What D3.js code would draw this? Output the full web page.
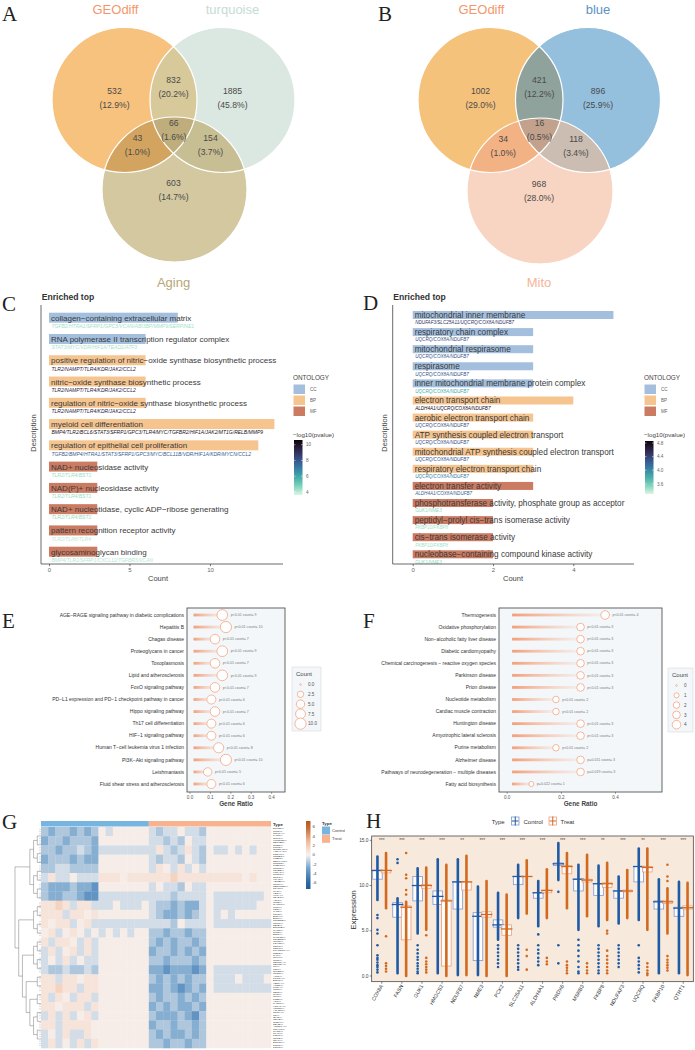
<!DOCTYPE html>
<html>
<head>
<meta charset="utf-8">
<script src="https://cdn.jsdelivr.net/npm/d3@7"></script>
<style>
  body { margin: 0; background: #fff; }
  svg { display: block; }
  text { font-family: "Liberation Sans", Arial, sans-serif; }
  text.letter { font-family: "Liberation Serif", "DejaVu Serif", serif; }
</style>
</head>
<body>
<svg id="fig" width="695" height="1050"></svg>
<script>
// ---------- data ----------
// venn: counts in order [only1, only2, only3, 1&2, 1&3, 2&3, all]
const vennANames = ["GEOdiff", "turquoise", "Aging"];
const vennACounts = [532, 1885, 603, 832, 43, 154, 66];
const vennBNames = ["GEOdiff", "blue", "Mito"];
const vennBCounts = [1002, 896, 968, 421, 34, 118, 16];

const cTerms = ["collagen−containing extracellular matrix", "RNA polymerase II transcription regulator complex",
  "positive regulation of nitric−oxide synthase biosynthetic process", "nitric−oxide synthase biosynthetic process",
  "regulation of nitric−oxide synthase biosynthetic process", "myeloid cell differentiation",
  "regulation of epithelial cell proliferation", "NAD+ nucleosidase activity", "NAD(P)+ nucleosidase activity",
  "NAD+ nucleotidase, cyclic ADP−ribose generating", "pattern recognition receptor activity", "glycosaminoglycan binding"];
const cOnto = ["CC", "CC", "BP", "BP", "BP", "BP", "BP", "MF", "MF", "MF", "MF", "MF"];
const cCounts = [8, 6, 6, 6, 6, 14, 13, 3, 3, 3, 3, 3];
const cGenes = ["TGFB2/HTRA1/SFRP1/GPC3/VCAN/ABI3BP/MMP9/SERPINE1", "STAT3/MYC/VDR/HIF1A/TEAD1/ATF3",
  "TLR2/NAMPT/TLR4/KDR/JAK2/CCL2", "TLR2/NAMPT/TLR4/KDR/JAK2/CCL2", "TLR2/NAMPT/TLR4/KDR/JAK2/CCL2",
  "BMP4/TLR2/BCL6/STAT3/SFRP1/GPC3/TLR4/MYC/TGFBR2/HIF1A/JAK2/MT1G/RELB/MMP9",
  "TGFB2/BMP4/HTRA1/STAT3/SFRP1/GPC3/MYC/BCL11B/VDR/HIF1A/KDR/MYCN/CCL2",
  "TLR2/TLR4/BST1", "TLR2/TLR4/BST1", "TLR2/TLR4/BST1", "TLR2/TLR8/TLR4", "BMP4/TLR2/SFRP1/CXCL12/TGFBR3/VCAN"];
const cLogP = [4.3, 4.2, 9.6, 9.6, 9.6, 10.2, 7.8, 4.4, 4.4, 4.4, 4.0, 4.1];

const dTerms = ["mitochondrial inner membrane", "respiratory chain complex", "mitochondrial respirasome", "respirasome",
  "inner mitochondrial membrane protein complex", "electron transport chain", "aerobic electron transport chain",
  "ATP synthesis coupled electron transport", "mitochondrial ATP synthesis coupled electron transport",
  "respiratory electron transport chain", "electron transfer activity",
  "phosphotransferase activity, phosphate group as acceptor", "peptidyl−prolyl cis−trans isomerase activity",
  "cis−trans isomerase activity", "nucleobase−containing compound kinase activity"];
const dOnto = ["CC", "CC", "CC", "CC", "CC", "BP", "BP", "BP", "BP", "BP", "MF", "MF", "MF", "MF", "MF"];
const dCounts = [5, 3, 3, 3, 3, 4, 3, 3, 3, 3, 3, 2, 2, 2, 2];
const dGenes = ["NDUFAF3/SLC25A11/UQCRQ/COX8A/NDUFB7", "UQCRQ/COX8A/NDUFB7", "UQCRQ/COX8A/NDUFB7", "UQCRQ/COX8A/NDUFB7",
  "UQCRQ/COX8A/NDUFB7", "ALDH4A1/UQCRQ/COX8A/NDUFB7", "UQCRQ/COX8A/NDUFB7", "UQCRQ/COX8A/NDUFB7",
  "UQCRQ/COX8A/NDUFB7", "UQCRQ/COX8A/NDUFB7", "ALDH4A1/COX8A/NDUFB7", "GUK1/NME3", "FKBP10/FKBP8", "FKBP10/FKBP8", "GUK1/NME3"];
const dLogP = [4.5, 4.3, 4.3, 4.3, 3.8, 4.8, 4.3, 4.3, 4.3, 4.05, 4.2, 3.5, 3.45, 3.45, 3.5];

const eTerms = ["AGE−RAGE signaling pathway in diabetic complications", "Hepatitis B", "Chagas disease",
  "Proteoglycans in cancer", "Toxoplasmosis", "Lipid and atherosclerosis", "FoxO signaling pathway",
  "PD−L1 expression and PD−1 checkpoint pathway in cancer", "Hippo signaling pathway", "Th17 cell differentiation",
  "HIF−1 signaling pathway", "Human T−cell leukemia virus 1 infection", "PI3K−Akt signaling pathway",
  "Leishmaniasis", "Fluid shear stress and atherosclerosis"];
const eCounts = [9, 10, 7, 9, 7, 9, 7, 6, 7, 6, 6, 8, 10, 5, 6];
const eP = ["p<0.01", "p<0.01", "p<0.01", "p<0.01", "p<0.01", "p<0.01", "p<0.01", "p<0.01", "p<0.01", "p<0.01",
  "p<0.01", "p<0.01", "p<0.01", "p<0.01", "p<0.01"];
const eTotal = 56;
const eLegend = [0, 2.5, 5, 7.5, 10];

const fTerms = ["Thermogenesis", "Oxidative phosphorylation", "Non−alcoholic fatty liver disease",
  "Diabetic cardiomyopathy", "Chemical carcinogenesis − reactive oxygen species", "Parkinson disease",
  "Prion disease", "Nucleotide metabolism", "Cardiac muscle contraction", "Huntington disease",
  "Amyotrophic lateral sclerosis", "Purine metabolism", "Alzheimer disease",
  "Pathways of neurodegeneration − multiple diseases", "Fatty acid biosynthesis"];
const fCounts = [4, 3, 3, 3, 3, 3, 3, 2, 2, 3, 3, 2, 3, 3, 1];
const fP = ["p<0.01", "p<0.01", "p<0.01", "p<0.01", "p<0.01", "p<0.01", "p<0.01", "p<0.01", "p<0.01", "p<0.01",
  "p<0.01", "p<0.01", "p=0.011", "p=0.019", "p=0.022"];
const fTotal = 11;
const fLegend = [0, 1, 2, 3, 4];

// heatmap: 24 row bands x 32 sample columns (15 Control, 17 Treat)
// . ~0, a..d = light..medium blue, A/B = light orange
const gCtrlCols = 15;
const gBands = [
  "bcbbcbcb.a.....abaa.aab.........",
  "cbbcbbbc.......aabab.aa.........",
  "bbcbbabcaaaaaaaaAabaAab.aa.a.a..",
  "cbbbcbcc.......abaab.ab.........",
  "bbaabbbb.......aA.aAa.a.........",
  "aAaa.aaaAAA.AAAAAABAAAAAAAAA.A..",
  "bcccbccd.......a.aab.aa.........",
  "bccbbcddaaaaaaaaaabaaaa.aaaaaaa.",
  "AABAaAAaaa.aaa.abbcbcca.aaaaaa..",
  "AAAaAA.A.......abccbcba.a.a.....",
  "A.AAa.Aaaaaaaaaaaab.aaa.aaaaaaaa",
  ".Aa.A.a.a.a.a..bbcbbcbb.........",
  "AaAA.aAa.......bcbcbbcb.........",
  "aAa.AaAa.......cbbcbcbc.........",
  "a.aAa.aa.......bbcbbbcb.........",
  "abbabbab.......ccdcccdc.aaaaaaaa",
  "AAaAA.AA.......bcbcbcbb.aaa.aaa.",
  "AABAAaAA.......ccbcdcbc.aaaaaaaa",
  "AaA.aAAa.......bcbbcbcb.........",
  "AA.AAAaA.......cbcbccbc.........",
  "aAaAa.Aa.......bcccbcdb.........",
  "AAaAAAA........cbbcbbcb.........",
  "a.aAaaA........bcbccbcb.........",
  "aAa.aAaA.......bbcbbcbb........."
];
const gKey = { ".": 0.3, "a": -0.8, "b": -1.6, "c": -2.5, "d": -3.6, "A": 0.8, "B": 1.6 };
const gTree = [[[[0, 1], [2, 3]], [[4, 5], [6, 7]]], [[[8, 9], [10, 11]], [[[12, 13], [14, 15]], [[16, 17], [[18, 19], [[20, 21], [22, 23]]]]]]];
const gLabels = ["DMWD***", "TFRC***", "COX8A***", "FASN***", "GUK1***", "HMGCS2***", "NDUFB7**", "NME3***",
  "PCK2***", "SLC25A11***", "ALDH4A1***", "PRDX6***", "MSRB3***", "FKBP8**", "NDUFAF3***", "UQCRQ**",
  "FKBP10***", "QTRT1***", "TGFB2***", "HTRA1***", "SFRP1***", "GPC3***", "VCAN***", "ABI3BP***",
  "MMP9***", "SERPINE1***", "STAT3***", "MYC***", "VDR***", "HIF1A***", "TEAD1***", "ATF3***",
  "TLR2***", "NAMPT***", "TLR4***", "KDR***", "JAK2***", "CCL2***", "BMP4***", "BCL6***",
  "TGFBR2***", "MT1G***", "RELB***", "BCL11B***", "MYCN***", "TLR8***", "BST1***", "CXCL12***",
  "TGFBR3***", "IGF1R***", "FOXO3***", "SIRT1***", "SIRT3***", "PPARGC1A***", "SOD2***", "CAT***",
  "GPX1***", "TP53***", "CDKN1A***", "CDKN2A***", "IL6***", "TNF***", "NFKB1***", "MTOR***",
  "AKT1***", "PIK3CA***", "EGFR***", "VEGFA***", "APOE***", "LMNA***", "WRN***", "TERT***",
  "GHR***", "IGF1***", "PTEN***", "ATM***", "PARP1***", "HSPA1A***", "HSPD1***", "ACADM***",
  "CPT1A***", "CS***", "IDH2***", "MDH2***", "OGDH***", "SDHB***", "ATP5F1A***", "COX4I1***",
  "CYCS***", "TFAM***", "POLG***", "MFN2***", "OPA1***", "DNM1L***", "PINK1***", "PRKN***"];

// box/dot plot: box = [q1, centre line, q3]; dense = continuous dot column [lo, hi]; sparse = single dots
const hGenes = ["COX8A", "FASN", "GUK1", "HMGCS2", "NDUFB7", "NME3", "PCK2", "SLC25A11", "ALDH4A1", "PRDX6",
  "MSRB3", "FKBP8", "NDUFAF3", "UQCRQ", "FKBP10", "QTRT1"];
const hSig = ["***", "***", "***", "***", "**", "***", "***", "***", "***", "***", "***", "**", "***", "**", "***", "***"];
const hCtrlBox = [[10.7, 11.66, 11.7], [6.5, 7.9, 8.1], [8.3, 10.0, 11.0], [7.9, 8.8, 9.4], [7.4, 10.4, 10.4],
  [1.7, 6.6, 7.0], [5.4, 5.65, 6.2], [10.1, 11.0, 11.0], [8.6, 9.2, 9.2], [12.2, 12.4, 12.5], [9.4, 10.7, 10.7],
  [8.9, 10.2, 10.2], [8.6, 9.4, 9.4], [10.4, 12.1, 12.1], [7.4, 8.2, 8.3], [6.6, 7.5, 7.6]];
const hTreatBox = [[11.4, 11.66, 11.7], [4.0, 7.6, 7.75], [9.7, 10.0, 10.1], [1.1, 8.3, 8.4], [9.5, 10.4, 10.4],
  [6.5, 6.8, 7.1], [4.5, 5.2, 5.65], [11.0, 11.0, 11.0], [9.2, 9.45, 9.5], [11.3, 12.1, 12.2], [10.4, 10.6, 10.7],
  [9.8, 10.2, 10.3], [9.3, 9.4, 9.5], [11.5, 12.0, 12.1], [8.0, 8.2, 8.3], [7.4, 7.55, 7.75]];
const hCtrlDense = [[8.4, 13.2], [0.3, 8.6], [4.7, 11.9], [0.3, 12.9], [0.1, 12.9], [0.1, 9.9], [4.0, 9.2], [6.4, 12.3],
  [5.5, 10.5], [10.6, 14.7], [5.1, 12.3], [5.5, 12.2], [5.8, 11.0], [6.2, 14.1], [0.3, 10.7], [0.3, 10.4]];
const hTreatDense = [[7.5, 13.6], [0.0, 8.2], [5.1, 12.0], [0.0, 12.3], [0.1, 13.3], [0.0, 10.5], [0.0, 9.0], [6.9, 12.8],
  [6.4, 11.8], [7.5, 13.6], [6.6, 13.4], [6.2, 12.5], [6.4, 11.7], [5.1, 14.1], [4.7, 9.7], [0.1, 10.3]];
const hCtrlSparse = [[6.75, 6.4, 5.1, 4.7, 3.4, 2.3, 2.0, 1.8, 1.5, 1.2, 1.0, 0.7, 0.4], [12.9, 12.5],
  [3.4, 2.9, 2.5, 2.1, 1.8, 1.4, 1.1, 0.8, 0.5, 0.3], [], [], [], [3.4, 3.0, 2.6, 2.2, 1.8, 1.4, 1.0],
  [3.4, 3.0, 2.6, 2.2, 1.8, 1.4, 1.0, 0.7], [4.6, 3.4, 2.9, 2.5, 2.0, 1.6, 1.2], [9.3, 3.4, 1.4],
  [4.0, 3.4, 2.8, 2.2, 1.6, 1.0, 0.5, 0.3], [3.4, 3.0, 2.6, 2.2, 1.8, 1.4, 1.0, 0.6, 0.3],
  [3.4, 3.0, 2.6, 2.2, 1.8, 1.4, 1.0], [3.4, 2.0, 1.6, 1.2, 0.8, 0.4], [], []];
const hTreatSparse = [[4.4, 1.4, 1.1, 0.8, 0.5], [13.6, 11.2, 10.8, 9.5, 9.0], [4.5, 2.0, 1.6, 1.3, 1.0, 0.7, 0.4],
  [], [], [], [], [2.9, 2.2, 0.7], [2.0, 1.6, 1.3], [1.6, 1.2, 0.9, 0.6, 0.3], [1.4, 1.0, 0.6, 0.3],
  [5.0, 4.7, 2.8, 2.2, 1.8, 1.4, 1.0, 0.6, 0.3], [], [1.4, 1.0, 0.6, 0.3, 0.1],
  [12.3, 11.0, 10.5, 2.2, 1.8, 1.5, 1.2, 0.9, 0.6], []];
const hYTicks = [0, 5, 10, 15];

// ---------- drawing ----------
const svg = d3.select("#fig");
const defs = svg.append("defs");
svg.append("rect").attr("width", 695).attr("height", 1050).attr("fill", "#fff");

function letter(t, x, y) {
  svg.append("text").attr("class", "letter").attr("x", x).attr("y", y).text(t)
    .attr("font-size", 21).attr("fill", "#222");
}

// --- Venn ---
function drawVenn(id, circles, names, nameColors, counts, fills) {
  const g = svg.append("g");
  circles.forEach((c, i) => defs.append("clipPath").attr("id", id + "c" + i)
    .append("circle").attr("cx", c[0]).attr("cy", c[1]).attr("r", c[2]));
  const circ = (gg, c) => gg.append("circle").attr("cx", c[0]).attr("cy", c[1]).attr("r", c[2]);
  circles.forEach((c, i) => circ(g, c).attr("fill", fills[i]));
  [[0, 1, 3], [0, 2, 4], [1, 2, 5]].forEach(([a, b, f]) =>
    circ(g.append("g").attr("clip-path", `url(#${id}c${b})`), circles[a]).attr("fill", fills[f]));
  circ(g.append("g").attr("clip-path", `url(#${id}c2)`).append("g").attr("clip-path", `url(#${id}c1)`), circles[0])
    .attr("fill", fills[6]);
  circles.forEach(c => circ(g, c).attr("fill", "none").attr("stroke", "#fff").attr("stroke-width", 1.2));

  const [c1, c2, c3] = circles;
  const mid = (p, q) => [(p[0] + q[0]) / 2, (p[1] + q[1]) / 2];
  const m12 = mid(c1, c2), m13 = mid(c1, c3), m23 = mid(c2, c3);
  const cen = [(c1[0] + c2[0] + c3[0]) / 3, (c1[1] + c2[1] + c3[1]) / 3];
  const pos = [[c1[0] - 10, c1[1] - 9], [c2[0] + 10, c2[1] - 9], [c3[0] - 1, c3[1] - 7],
    [m12[0], m12[1] - 20], [m13[0] - 12, m13[1] - 7], [m23[0] + 12, m23[1] - 7], [cen[0], cen[1] - 7]];
  const total = d3.sum(counts);
  counts.forEach((v, i) => {
    const t = g.append("text").attr("text-anchor", "middle").attr("font-size", 8.6).attr("fill", "#4a4a4a");
    t.append("tspan").attr("x", pos[i][0]).attr("y", pos[i][1] + 3).text(v);
    t.append("tspan").attr("x", pos[i][0]).attr("y", pos[i][1] + 17).text("(" + d3.format(".1f")(v / total * 100) + "%)");
  });
  const npos = [[c1[0] - 9, 14], [c2[0] + 10, 14], [c3[0] - 1, 287]];
  names.forEach((n, i) => g.append("text").attr("x", npos[i][0]).attr("y", npos[i][1])
    .attr("text-anchor", "middle").attr("font-size", 13).attr("fill", nameColors[i]).text(n));
}

drawVenn("vA", [[124.5, 100, 72.5], [222.5, 100, 72.5], [174.5, 189.5, 72.5]], vennANames,
  ["#F3976B", "#C5DDD3", "#B7A677"], vennACounts,
  ["#F6C27E", "#DBE8E1", "#D3C8A0", "#D8C99B", "#D3A45F", "#C8BE93", "#BFAE7B"]);
drawVenn("vB", [[490.5, 100, 72.5], [588, 100, 72.5], [540, 191, 73]], vennBNames,
  ["#F3976B", "#5B92C6", "#F5B597"], vennBCounts,
  ["#F5C27C", "#94C0DE", "#F8D5C2", "#8FA29C", "#F3B284", "#CBBDB1", "#C2A28D"]);
letter("A", 2, 21);
letter("B", 378, 21);

// --- GO enrichment bars ---
const ontColor = { CC: "#A3BFDD", BP: "#F6C48F", MF: "#CB7B62" };
const makoStops = ["#DEF5E5", "#60CEAC", "#3497A9", "#395D9C", "#382A54", "#0B0405"];
const mako = d3.interpolateRgbBasis(makoStops);

function drawEnrich(P) {
  const g = svg.append("g");
  const x = d3.scaleLinear().domain(P.xDom).range(P.xRange);
  const y = d3.scalePoint().domain(d3.range(P.terms.length)).range(P.yRange);
  const pc = d3.scaleLinear().domain(P.pDom).range([0, 1]).clamp(true);

  g.append("text").attr("x", P.titleX).attr("y", 299.5).attr("font-size", 8.6).attr("font-weight", "bold")
    .attr("fill", "#333").text("Enriched top");

  defs.append("clipPath").attr("id", P.id + "clip").append("rect")
    .attr("x", P.axisL).attr("y", 300).attr("width", P.axisR - P.axisL).attr("height", 264);
  const pg = g.append("g").attr("clip-path", `url(#${P.id}clip)`);
  P.terms.forEach((t, i) => {
    const cy = y(i);
    pg.append("rect").attr("x", x(0)).attr("y", cy - P.bh / 2).attr("width", x(P.counts[i]) - x(0))
      .attr("height", P.bh).attr("fill", ontColor[P.onto[i]]);
    pg.append("text").attr("x", x(0) + 2).attr("y", cy + 3).attr("font-size", P.fs).attr("fill", "#3a3a3a").text(t);
    pg.append("text").attr("x", x(0) + 2.5).attr("y", cy + P.bh / 2 + 5.3).attr("font-size", P.gfs)
      .attr("font-style", "italic").attr("fill", mako(pc(P.logp[i]))).text(P.genes[i]);
  });

  g.append("line").attr("x1", P.axisL).attr("x2", P.axisL).attr("y1", 305).attr("y2", 564).attr("stroke", "#444").attr("stroke-width", 0.8);
  g.append("line").attr("x1", P.axisL).attr("x2", P.axisR).attr("y1", 564).attr("y2", 564).attr("stroke", "#444").attr("stroke-width", 0.8);
  const ax = g.append("g").attr("transform", "translate(0,564)")
    .call(d3.axisBottom(x).tickValues(P.ticks).tickSize(2.2).tickPadding(2).tickFormat(d3.format("d")));
  ax.select(".domain").remove();
  ax.selectAll("line").attr("stroke", "#444").attr("stroke-width", 0.7);
  ax.selectAll("text").attr("font-size", 6).attr("fill", "#666");
  g.append("text").attr("x", P.countX).attr("y", 581).attr("text-anchor", "middle").attr("font-size", 7.5)
    .attr("fill", "#444").text("Count");
  g.append("text").attr("transform", `translate(${P.descX},433) rotate(-90)`).attr("text-anchor", "middle")
    .attr("dy", "0.35em").attr("font-size", 7.5).attr("fill", "#444").text("Description");

  // legends
  const L = P.legX;
  g.append("text").attr("x", L).attr("y", 379.5).attr("font-size", 6.4).attr("fill", "#444").text("ONTOLOGY");
  ["CC", "BP", "MF"].forEach((k, i) => {
    g.append("rect").attr("x", L + 0.5).attr("y", 384.5 + i * 11).attr("width", 11.5).attr("height", 9.5).attr("fill", ontColor[k]);
    g.append("text").attr("x", L + 17).attr("y", 391 + i * 11).attr("font-size", 4.6).attr("fill", "#666").text(k);
  });
  g.append("text").attr("x", L).attr("y", 436.5).attr("font-size", 6.2).attr("fill", "#444").text("−log10(pvalue)");
  const gid = P.id + "pgrad";
  const lg = defs.append("linearGradient").attr("id", gid).attr("x1", 0).attr("x2", 0).attr("y1", 1).attr("y2", 0);
  d3.range(0, 1.0001, 0.1).forEach(t => lg.append("stop").attr("offset", t).attr("stop-color", mako(t)));
  g.append("rect").attr("x", L + 1).attr("y", P.barY[0]).attr("width", 8.5).attr("height", P.barY[1] - P.barY[0])
    .attr("fill", `url(#${gid})`);
  const py = d3.scaleLinear().domain(P.pDom).range([P.barY[1], P.barY[0]]);
  P.pTicks.forEach(v => {
    g.append("line").attr("x1", L + 1).attr("x2", L + 2.5).attr("y1", py(v)).attr("y2", py(v)).attr("stroke", "#fff").attr("stroke-width", 0.5);
    g.append("line").attr("x1", L + 8).attr("x2", L + 9.5).attr("y1", py(v)).attr("y2", py(v)).attr("stroke", "#fff").attr("stroke-width", 0.5);
    g.append("text").attr("x", L + 13).attr("y", py(v) + 1.7).attr("font-size", 4.6).attr("fill", "#666")
      .text(P.pFmt(v));
  });
}

drawEnrich({
  id: "C", terms: cTerms, counts: cCounts, onto: cOnto, genes: cGenes, logp: cLogP,
  xDom: [0, 10], xRange: [49, 210], ticks: [0, 5, 10], yRange: [317.7, 551.7], bh: 10, fs: 8, gfs: 5,
  axisL: 41, axisR: 283, titleX: 41.7, descX: 33, countX: 158, legX: 293,
  pDom: [3.6, 10.6], pTicks: [4, 6, 8, 10], pFmt: d3.format("d"), barY: [440, 495]
});
drawEnrich({
  id: "D", terms: dTerms, counts: dCounts, onto: dOnto, genes: dGenes, logp: dLogP,
  xDom: [0, 4], xRange: [412.7, 573.3], ticks: [0, 2, 4], yRange: [315, 554.3], bh: 8, fs: 8.2, gfs: 4.6,
  axisL: 392.7, axisR: 634, titleX: 393.3, descX: 384.3, countX: 513, legX: 644,
  pDom: [3.3, 4.86], pTicks: [3.6, 4.0, 4.4, 4.8], pFmt: d3.format(".1f"), barY: [441, 494]
});
letter("C", 2, 311);
letter("D", 363, 310);

// --- KEGG lollipops ---
function drawLolli(P) {
  const g = svg.append("g");
  const x = d3.scaleLinear().domain([0, 0.4]).range(P.xr);
  const y = d3.scalePoint().domain(d3.range(P.terms.length)).range([615, 784]);
  const r = d3.scaleSqrt().domain([0, P.cmax]).range([0.8, P.rmax]);
  g.append("rect").attr("x", P.box[0]).attr("y", 608).attr("width", P.box[1] - P.box[0]).attr("height", 184)
    .attr("fill", "#F3F7FA").attr("stroke", "#555").attr("stroke-width", 0.9);
  const gid = P.id + "lg";
  const lg = defs.append("linearGradient").attr("id", gid);
  lg.append("stop").attr("offset", "0%").attr("stop-color", "#F39A72").attr("stop-opacity", 0.95);
  lg.append("stop").attr("offset", "100%").attr("stop-color", "#F7BDA2").attr("stop-opacity", 0.15);
  P.terms.forEach((t, i) => {
    const ratio = P.counts[i] / P.total, cx = x(ratio), cy = y(i), rr = r(P.counts[i]);
    g.append("rect").attr("x", x(0.02)).attr("y", cy - 1.4).attr("width", cx - x(0.02)).attr("height", 2.8)
      .attr("fill", `url(#${gid})`);
    g.append("circle").attr("cx", cx).attr("cy", cy).attr("r", rr).attr("fill", "#fff")
      .attr("stroke", "#F4A582").attr("stroke-width", 0.8);
    g.append("text").attr("x", cx + rr + 3).attr("y", cy + 1.2).attr("font-size", 3.6).attr("fill", "#777")
      .text(P.p[i] + " count= " + P.counts[i]);
    g.append("text").attr("x", P.box[0] - 3).attr("y", cy + 1.7).attr("text-anchor", "end").attr("font-size", 5)
      .attr("fill", "#333").text(t);
  });
  const ax = g.append("g").attr("transform", "translate(0,792)")
    .call(d3.axisBottom(x).tickValues(P.ticks).tickSize(1.8).tickPadding(1.5).tickFormat(d3.format(".1f")));
  ax.select(".domain").remove();
  ax.selectAll("line").attr("stroke", "#555").attr("stroke-width", 0.6);
  ax.selectAll("text").attr("font-size", 4.6).attr("fill", "#555");
  g.append("text").attr("x", (P.box[0] + P.box[1]) / 2).attr("y", 806).attr("text-anchor", "middle")
    .attr("font-size", 6.4).attr("font-weight", "bold").attr("fill", "#444").text("Gene Ratio");
  // legend
  const [lx, ly, lw] = P.leg;
  g.append("rect").attr("x", lx).attr("y", ly).attr("width", lw).attr("height", 64)
    .attr("fill", "#F3F7FA").attr("stroke", "#d5d9dd").attr("stroke-width", 0.6);
  g.append("text").attr("x", lx + 4).attr("y", ly + 8.5).attr("font-size", 6).attr("fill", "#444").text("Count");
  P.legVals.forEach((v, i) => {
    const yy = ly + 17.5 + i * 9.8;
    g.append("circle").attr("cx", lx + 8.5).attr("cy", yy).attr("r", r(v)).attr("fill", "#fff")
      .attr("stroke", "#F4A582").attr("stroke-width", 0.8);
    g.append("text").attr("x", lx + 16).attr("y", yy + 1.6).attr("font-size", 4.6).attr("fill", "#555").text(P.legFmt(v));
  });
}

drawLolli({
  id: "E", terms: eTerms, counts: eCounts, p: eP, total: eTotal, xr: [189.5, 271.1], box: [187, 285],
  ticks: [0, 0.1, 0.2, 0.3, 0.4], cmax: 10, rmax: 5.6, leg: [292, 667, 29], legVals: eLegend, legFmt: d3.format(".1f")
});
drawLolli({
  id: "F", terms: fTerms, counts: fCounts, p: fP, total: fTotal, xr: [506.7, 615], box: [499, 662],
  ticks: [0, 0.2, 0.4], cmax: 4, rmax: 4.3, leg: [668, 668, 25], legVals: fLegend, legFmt: d3.format("d")
});
letter("E", 2, 628);
letter("F", 363, 628);

// --- heatmap ---
(function () {
  const g = svg.append("g");
  defs.append("clipPath").attr("id", "gclip").append("rect").attr("x", 0).attr("y", 815).attr("width", 345).attr("height", 235);
  g.attr("clip-path", "url(#gclip)");
  const nCols = gBands[0].length;
  const xs = d3.scaleBand().domain(d3.range(nCols)).range([41, 271]);
  const ys = d3.scaleBand().domain(d3.range(gBands.length)).range([827, 1048]);
  const col = d3.scaleLinear().domain([-6.5, -3, 0, 3, 6.5])
    .range(["#1F5C9C", "#6FA0CB", "#F8F3F1", "#F0B796", "#B5581E"]).clamp(true);
  gBands.forEach((row, ri) => {
    row.split("").forEach((ch, ci) => {
      g.append("rect").attr("x", xs(ci)).attr("y", ys(ri)).attr("width", xs.bandwidth() + 0.3)
        .attr("height", ys.bandwidth() + 0.3).attr("fill", col(gKey[ch]));
    });
  });
  // type bar
  const typeCol = { Control: "#76B5E0", Treat: "#F8B28E" };
  g.append("rect").attr("x", 41).attr("y", 821).attr("width", xs(gCtrlCols) - 41).attr("height", 5.5).attr("fill", typeCol.Control);
  g.append("rect").attr("x", xs(gCtrlCols)).attr("y", 821).attr("width", 271 - xs(gCtrlCols)).attr("height", 5.5).attr("fill", typeCol.Treat);
  g.append("text").attr("x", 273).attr("y", 826).attr("font-size", 4.4).attr("font-weight", "bold").attr("fill", "#333").text("Type");
  // row labels
  const yl = d3.scalePoint().domain(d3.range(gLabels.length)).range([828.5, 1047]);
  gLabels.forEach((t, i) => g.append("text").attr("x", 273).attr("y", yl(i) + 0.9).attr("font-size", 2.5)
    .attr("fill", "#222").text(t));
  // dendrogram
  const root = d3.hierarchy(gTree, d => Array.isArray(d) ? d : null);
  d3.cluster().size([ys.range()[1] - ys.range()[0] - ys.bandwidth(), 26]).separation(() => 1)(root);
  const px = d => 15 + d.y, py = d => 827 + ys.bandwidth() / 2 + d.x;
  root.links().forEach(l => {
    g.append("path").attr("d", `M${px(l.source)},${py(l.source)}V${py(l.target)}H${px(l.target)}`)
      .attr("fill", "none").attr("stroke", "#666").attr("stroke-width", 0.45);
  });
  root.leaves().forEach(lf => {
    [0.25, 0.5, 0.75].forEach(f => g.append("line").attr("x1", px(lf) - 2).attr("x2", 41)
      .attr("y1", ys(lf.data) + ys.bandwidth() * f).attr("y2", ys(lf.data) + ys.bandwidth() * f)
      .attr("stroke", "#888").attr("stroke-width", 0.3));
  });
  // colour legend
  const gid = "heatgrad";
  const lg = defs.append("linearGradient").attr("id", gid).attr("x1", 0).attr("x2", 0).attr("y1", 1).attr("y2", 0);
  const ly = d3.scaleLinear().domain([-7.3, 7.2]).range([889, 821]);
  d3.range(0, 1.0001, 0.1).forEach(t => lg.append("stop").attr("offset", t).attr("stop-color", col(ly.invert(889 - t * 68))));
  g.append("rect").attr("x", 306).attr("y", 821).attr("width", 4.5).attr("height", 68).attr("fill", `url(#${gid})`);
  [6, 4, 2, 0, -2, -4, -6].forEach(v => g.append("text").attr("x", 312.5).attr("y", ly(v) + 1.5)
    .attr("font-size", 4.4).attr("fill", "#444").text(v));
  g.append("text").attr("x", 322).attr("y", 825).attr("font-size", 4.4).attr("font-weight", "bold").attr("fill", "#333").text("Type");
  ["Control", "Treat"].forEach((k, i) => {
    g.append("rect").attr("x", 322).attr("y", 826.5 + i * 8.3).attr("width", 8).attr("height", 8).attr("fill", typeCol[k]);
    g.append("text").attr("x", 332).attr("y", 832 + i * 8.3).attr("font-size", 4.2).attr("fill", "#444").text(k);
  });
})();
letter("G", 2, 829);

// --- expression box / dot plot ---
(function () {
  const g = svg.append("g");
  const x = d3.scaleBand().domain(hGenes).range([371.7, 693.3]);
  const y = d3.scaleLinear().domain([0, 15]).range([976, 840.3]);
  const dark = { c: "#1F5AA6", t: "#D2691E" }, light = { c: "#8098CF", t: "#ECA081" };
  g.append("rect").attr("x", 371.7).attr("y", 836).attr("width", 321.6).attr("height", 145.7)
    .attr("fill", "#F7E9DB").attr("stroke", "#333").attr("stroke-width", 0.7);
  hGenes.forEach((gene, i) => {
    const mx = x(gene) + x.bandwidth() / 2;
    [["c", -4.3, hCtrlBox[i], hCtrlDense[i], hCtrlSparse[i]], ["t", 4.3, hTreatBox[i], hTreatDense[i], hTreatSparse[i]]]
      .forEach(([k, off, box, dense, sparse]) => {
        const cx = mx + off;
        g.append("rect").attr("x", cx - 4.8).attr("y", y(box[2])).attr("width", 9.6)
          .attr("height", Math.max(0.01, y(box[0]) - y(box[2]))).attr("fill", "#fff").attr("fill-opacity", 0.85)
          .attr("stroke", light[k]).attr("stroke-width", 0.8);
        g.append("line").attr("x1", cx).attr("x2", cx).attr("y1", y(dense[0])).attr("y2", y(dense[1]))
          .attr("stroke", dark[k]).attr("stroke-width", 2.6).attr("stroke-linecap", "round");
        sparse.forEach(v => g.append("circle").attr("cx", cx).attr("cy", y(v)).attr("r", 1.3).attr("fill", dark[k]));
        g.append("line").attr("x1", cx - 5.8).attr("x2", cx + 5.8).attr("y1", y(box[1])).attr("y2", y(box[1]))
          .attr("stroke", dark[k]).attr("stroke-width", 1.3);
      });
    g.append("text").attr("x", mx).attr("y", 842).attr("text-anchor", "middle").attr("font-size", 4.6)
      .attr("fill", "#444").text(hSig[i]);
    g.append("line").attr("x1", mx).attr("x2", mx).attr("y1", 981.7).attr("y2", 983.7).attr("stroke", "#333").attr("stroke-width", 0.6);
    g.append("text").attr("transform", `translate(${mx + 1.5},986) rotate(-60)`).attr("text-anchor", "end")
      .attr("font-size", 5.2).attr("fill", "#333").text(gene);
  });
  hYTicks.forEach(v => {
    g.append("line").attr("x1", 369.7).attr("x2", 371.7).attr("y1", y(v)).attr("y2", y(v)).attr("stroke", "#333").attr("stroke-width", 0.6);
    g.append("text").attr("x", 368.5).attr("y", y(v) + 1.7).attr("text-anchor", "end").attr("font-size", 4.8)
      .attr("fill", "#444").text(d3.format(".1f")(v));
  });
  g.append("text").attr("transform", "translate(353,910) rotate(-90)").attr("text-anchor", "middle")
    .attr("dy", "0.35em").attr("font-size", 8).attr("fill", "#333").text("Expression");
  // legend
  g.append("text").attr("x", 491.7).attr("y", 823.5).attr("font-size", 6).attr("fill", "#333").text("Type");
  [["c", "Control", 511.5, 523.5], ["t", "Treat", 549, 560.5]].forEach(([k, lab, bx, tx]) => {
    g.append("rect").attr("x", bx).attr("y", 817).attr("width", 7.5).attr("height", 8).attr("fill", "#fff")
      .attr("stroke", light[k]).attr("stroke-width", 0.8);
    g.append("line").attr("x1", bx + 3.75).attr("x2", bx + 3.75).attr("y1", 816.5).attr("y2", 825.5).attr("stroke", dark[k]).attr("stroke-width", 1);
    g.append("line").attr("x1", bx + 0.5).attr("x2", bx + 7).attr("y1", 821).attr("y2", 821).attr("stroke", dark[k]).attr("stroke-width", 1);
    g.append("text").attr("x", tx).attr("y", 823.5).attr("font-size", 6).attr("fill", "#333").text(lab);
  });
})();
letter("H", 366, 828);
</script>
</body>
</html>
